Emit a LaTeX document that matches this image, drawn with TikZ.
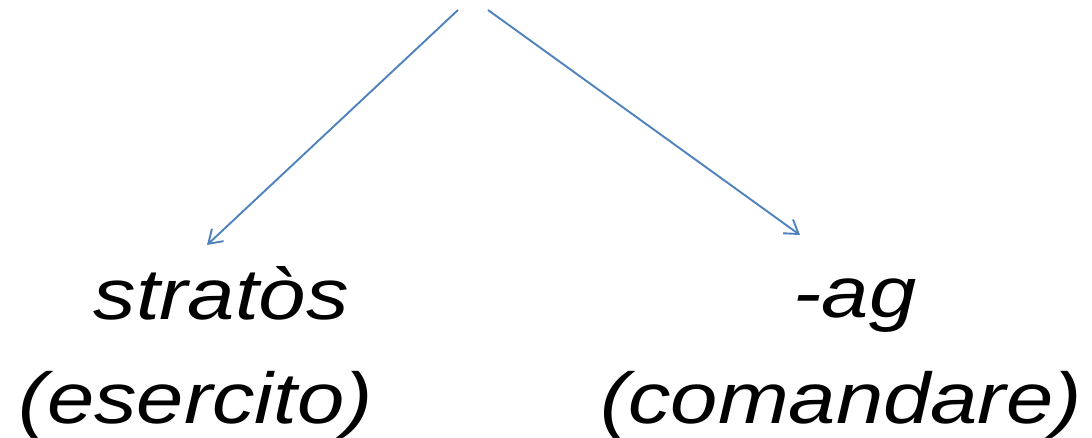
\documentclass[tikz,border=0pt]{standalone}
\usepackage{fontspec}
\setmainfont{Liberation Sans}
\usetikzlibrary{arrows.meta}
\definecolor{arrowblue}{HTML}{4F81BD}
\tikzset{
  lbl/.style={inner sep=0pt, anchor=base, font=\fontsize{72}{80}\selectfont\itshape},
  conn/.style={draw=arrowblue, line width=1.9pt, -{Straight Barb[length=13pt,width=17pt,line width=1.9pt]}}
}
\newcommand{\wide}[1]{\scalebox{1.18}[1]{#1}}
\begin{document}
\begin{tikzpicture}[x=1pt,y=-1pt]
  \useasboundingbox (0,0) rectangle (1092,437);
  \coordinate (top1) at (458,10);
  \coordinate (top2) at (488,10);
  \coordinate (end1) at (207,245);
  \coordinate (end2) at (800,235);
  \node[lbl] (strat) at (221,319) {\wide{stratòs}};
  \node[lbl] (eserc) at (196,423) {\wide{(esercito)}};
  \node[lbl] (ag) at (855,317) {\wide{-ag}};
  \node[lbl] (coman) at (841,423) {\wide{(comandare)}};
  \draw[conn] (top1) -- (end1);
  \draw[conn] (top2) -- (end2);
\end{tikzpicture}
\end{document}
